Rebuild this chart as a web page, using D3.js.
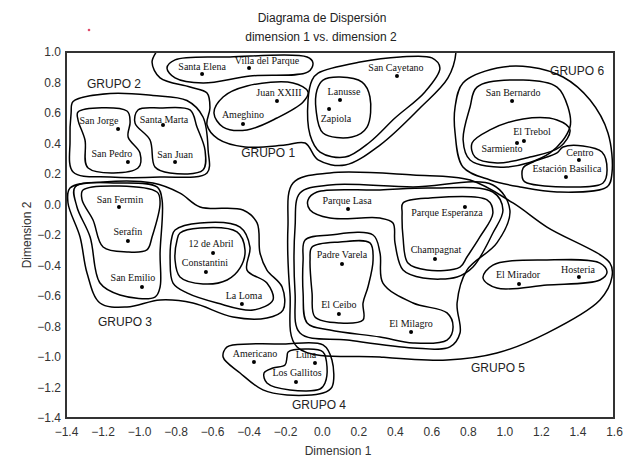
<!DOCTYPE html>
<html>
<head>
<meta charset="utf-8">
<script src="https://cdn.jsdelivr.net/npm/d3@7"></script>
<style>
  body { margin: 0; background: #fff; }
  svg { display: block; }
  .tick-label { font-family: "Liberation Sans", Arial, sans-serif; font-size: 12px; fill: #333; }
  .barrio { font-family: "Liberation Serif", "Times New Roman", serif; font-size: 10px; fill: #111; }
  .grupo { font-family: "Liberation Sans", Arial, sans-serif; font-size: 12px; fill: #222; }
</style>
</head>
<body>
<svg id="chart" width="623" height="457"></svg>
<script>
// barrios: [nombre, dimension 1, dimension 2]
const barrios = [
  ["Santa Elena", -0.655, 0.856], ["Villa del Parque", -0.398, 0.895],
  ["Juan XXIII", -0.245, 0.679], ["Ameghino", -0.431, 0.528],
  ["San Jorge", -1.115, 0.495], ["Santa Marta", -0.869, 0.521],
  ["San Pedro", -1.061, 0.279], ["San Juan", -0.803, 0.279],
  ["Lanusse", 0.100, 0.685], ["Zapiola", 0.040, 0.626],
  ["San Cayetano", 0.412, 0.843], ["San Bernardo", 1.042, 0.679],
  ["Sarmiento", 1.069, 0.403], ["El Trebol", 1.107, 0.416],
  ["Centro", 1.408, 0.292], ["Estación Basilica", 1.337, 0.180],
  ["Parque Lasa", 0.144, -0.030], ["Parque Esperanza", 0.784, -0.016],
  ["Champagnat", 0.620, -0.357], ["Padre Varela", 0.111, -0.390],
  ["El Ceibo", 0.094, -0.718], ["El Milagro", 0.489, -0.836],
  ["El Mirador", 1.080, -0.521], ["Hosteria", 1.408, -0.475],
  ["Americano", -0.371, -1.033], ["Luna", -0.037, -1.039],
  ["Los Gallitos", -0.141, -1.164], ["San Fermin", -1.110, -0.016],
  ["Serafin", -1.061, -0.239], ["San Emilio", -0.984, -0.541],
  ["12 de Abril", -0.595, -0.318], ["Constantini", -0.634, -0.443],
  ["La Loma", -0.437, -0.652]
];

const grupos = [
  ["GRUPO 1", -0.293, 0.311], ["GRUPO 2", -1.137, 0.764],
  ["GRUPO 3", -1.077, -0.797], ["GRUPO 4", -0.015, -1.341],
  ["GRUPO 5", 0.965, -1.098], ["GRUPO 6", 1.398, 0.849]
];

const xTicks = [-1.4, -1.2, -1.0, -0.8, -0.6, -0.4, -0.2, 0.0, 0.2, 0.4, 0.6, 0.8, 1.0, 1.2, 1.4, 1.6];
const yTicks = [1.0, 0.8, 0.6, 0.4, 0.2, 0.0, -0.2, -0.4, -0.6, -0.8, -1.0, -1.2, -1.4];

// contornos de los grupos (puntos de control en unidades de las dimensiones)
const contornos = [
  // grupo 1
  [[-0.847,0.895],[-0.803,0.948],[-0.502,0.967],[-0.080,0.967],[-0.048,0.928],[-0.075,0.869],[-0.392,0.843],[-0.650,0.797],[-0.803,0.830]],
  [[-0.590,0.600],[-0.540,0.705],[-0.409,0.777],[-0.157,0.797],[-0.075,0.738],[-0.102,0.672],[-0.245,0.567],[-0.409,0.489],[-0.540,0.508]],
  [[0.007,0.816],[0.100,0.836],[0.221,0.803],[0.264,0.705],[0.248,0.508],[0.166,0.443],[0.007,0.469],[-0.031,0.620],[-0.026,0.751]],
  [[-0.020,0.862],[0.210,0.934],[0.429,0.967],[0.603,0.961],[0.647,0.895],[0.565,0.738],[0.401,0.567],[0.264,0.410],[0.128,0.311],[-0.009,0.344],[-0.064,0.456],[-0.075,0.685],[-0.053,0.816]],
  [[-0.896,1.020],[-0.929,0.934],[-0.885,0.830],[-0.721,0.770],[-0.628,0.731],[-0.612,0.633],[-0.628,0.521],[-0.568,0.430],[-0.420,0.377],[-0.201,0.390],[-0.091,0.403],[-0.020,0.292],[0.128,0.259],[0.319,0.390],[0.538,0.633],[0.691,0.830],[0.735,1.000],[0.730,1.046],[-0.119,1.046],[-0.885,1.046]],
  // grupo 2
  [[-1.334,0.607],[-1.066,0.613],[-1.049,0.541],[-1.060,0.443],[-0.995,0.338],[-1.006,0.239],[-1.279,0.239],[-1.296,0.423],[-1.334,0.554]],
  [[-1.006,0.620],[-0.885,0.633],[-0.721,0.620],[-0.683,0.508],[-0.639,0.357],[-0.650,0.226],[-0.831,0.207],[-0.913,0.246],[-0.940,0.423],[-1.022,0.534]],
  [[-1.361,0.675],[-1.159,0.728],[-0.924,0.715],[-0.738,0.682],[-0.650,0.574],[-0.622,0.357],[-0.628,0.207],[-0.885,0.180],[-1.159,0.180],[-1.361,0.213],[-1.378,0.423],[-1.372,0.600]],
  // grupo 3
  [[-1.307,0.095],[-0.902,0.082],[-0.885,0.010],[-0.929,-0.213],[-0.957,-0.298],[-1.066,-0.311],[-1.197,-0.279],[-1.252,-0.102],[-1.312,0.030]],
  [[-1.350,0.115],[-1.121,0.141],[-0.902,0.115],[-0.874,0.030],[-0.885,-0.318],[-0.885,-0.541],[-0.913,-0.607],[-1.105,-0.593],[-1.214,-0.515],[-1.268,-0.213],[-1.340,-0.016]],
  [[-0.776,-0.187],[-0.666,-0.154],[-0.464,-0.180],[-0.420,-0.298],[-0.447,-0.416],[-0.518,-0.495],[-0.650,-0.521],[-0.776,-0.475],[-0.803,-0.364],[-0.792,-0.233]],
  [[-0.803,-0.167],[-0.666,-0.121],[-0.447,-0.148],[-0.393,-0.279],[-0.409,-0.430],[-0.300,-0.515],[-0.267,-0.626],[-0.376,-0.692],[-0.573,-0.646],[-0.738,-0.580],[-0.814,-0.515],[-0.830,-0.364],[-0.820,-0.213]],
  [[-1.378,0.108],[-1.197,0.148],[-0.924,0.141],[-0.776,0.075],[-0.666,-0.016],[-0.431,-0.036],[-0.354,-0.121],[-0.338,-0.318],[-0.300,-0.430],[-0.217,-0.541],[-0.212,-0.692],[-0.300,-0.744],[-0.486,-0.738],[-0.705,-0.646],[-0.885,-0.626],[-1.066,-0.672],[-1.214,-0.646],[-1.285,-0.449],[-1.323,-0.213],[-1.389,0.010]],
  // grupo 4
  [[-0.184,-0.967],[-0.080,-0.948],[0.007,-0.967],[0.029,-1.066],[0.018,-1.170],[-0.009,-1.210],[-0.174,-1.216],[-0.300,-1.170],[-0.316,-1.105],[-0.267,-1.072],[-0.201,-1.052],[-0.190,-1.000]],
  [[-0.518,-0.934],[-0.393,-0.915],[-0.212,-0.915],[0.007,-0.921],[0.056,-1.020],[0.056,-1.197],[0.007,-1.236],[-0.190,-1.249],[-0.322,-1.216],[-0.447,-1.105],[-0.540,-1.000]],
  // grupo 5
  [[0.445,0.010],[0.593,0.043],[0.905,0.030],[0.937,-0.056],[0.866,-0.213],[0.795,-0.344],[0.757,-0.410],[0.576,-0.430],[0.472,-0.384],[0.445,-0.213],[0.440,-0.056]],
  [[-0.075,0.030],[-0.026,0.082],[0.319,0.095],[0.593,0.108],[0.937,0.082],[0.992,-0.036],[0.937,-0.187],[0.828,-0.410],[0.741,-0.475],[0.555,-0.482],[0.445,-0.430],[0.401,-0.252],[0.390,-0.121],[0.319,-0.089],[0.045,-0.089],[-0.064,-0.036]],
  [[-0.053,-0.279],[0.100,-0.246],[0.264,-0.252],[0.281,-0.364],[0.253,-0.541],[0.226,-0.646],[0.226,-0.757],[0.100,-0.777],[-0.037,-0.738],[-0.053,-0.580],[-0.064,-0.364]],
  [[-0.091,-0.233],[0.045,-0.200],[0.281,-0.200],[0.319,-0.318],[0.335,-0.515],[0.500,-0.646],[0.686,-0.711],[0.719,-0.803],[0.686,-0.889],[0.500,-0.908],[0.319,-0.869],[0.045,-0.823],[-0.080,-0.777],[-0.102,-0.580],[-0.102,-0.364]],
  [[-0.119,0.075],[0.045,0.128],[0.500,0.115],[0.937,0.128],[1.030,-0.036],[0.959,-0.252],[0.795,-0.430],[0.741,-0.646],[0.757,-0.843],[0.702,-0.934],[0.500,-0.941],[0.139,-0.889],[-0.119,-0.843],[-0.146,-0.580],[-0.146,-0.148]],
  [[-0.157,0.141],[0.045,0.207],[0.500,0.193],[0.812,0.161],[1.047,0.010],[1.233,-0.148],[1.578,-0.384],[1.589,-0.475],[1.523,-0.626],[1.233,-0.843],[0.959,-0.974],[0.686,-1.020],[0.319,-1.000],[-0.135,-0.934],[-0.174,-0.580],[-0.185,-0.148]],
  [[0.883,-0.482],[0.937,-0.397],[1.233,-0.364],[1.523,-0.384],[1.562,-0.443],[1.523,-0.495],[1.233,-0.528],[0.959,-0.548]],
  // grupo 6
  [[0.823,0.403],[0.921,0.489],[1.102,0.561],[1.288,0.554],[1.359,0.489],[1.304,0.377],[1.140,0.311],[0.960,0.272],[0.839,0.311]],
  [[0.850,0.770],[1.102,0.816],[1.288,0.770],[1.348,0.639],[1.359,0.508],[1.250,0.338],[1.014,0.246],[0.812,0.292],[0.774,0.423],[0.812,0.639]],
  [[1.102,0.161],[1.102,0.239],[1.157,0.279],[1.288,0.338],[1.321,0.377],[1.430,0.384],[1.534,0.344],[1.562,0.226],[1.540,0.141],[1.343,0.115],[1.124,0.141]],
  [[0.773,0.797],[0.960,0.895],[1.140,0.902],[1.321,0.836],[1.469,0.685],[1.567,0.469],[1.589,0.207],[1.562,0.115],[1.288,0.082],[1.085,0.115],[0.921,0.161],[0.773,0.246],[0.730,0.469],[0.730,0.639]]
];

// desplazamiento de cada etiqueta respecto de su punto
const offsets = {
  "Santa Elena": [0, -4], "Villa del Parque": [18, -4], "Juan XXIII": [2, -5], "Ameghino": [0, -6],
  "San Jorge": [-19, -5], "Santa Marta": [1, -2], "San Pedro": [-16, -5], "San Juan": [0, -4],
  "Lanusse": [4, -5], "Zapiola": [7, 13], "San Cayetano": [-1, -5], "San Bernardo": [1, -5],
  "El Trebol": [8, -6], "Sarmiento": [-15, 9], "Centro": [1, -4], "Estación Basilica": [1, -5],
  "Parque Lasa": [-1, -5], "Parque Esperanza": [-18, 9], "Champagnat": [1, -6], "Padre Varela": [0, -6],
  "El Ceibo": [0, -6], "El Milagro": [0, -5], "El Mirador": [-1, -6], "Hosteria": [-1, -4],
  "Americano": [1, -5], "Luna": [-9, -5], "Los Gallitos": [1, -6], "San Fermin": [1, -4],
  "Serafin": [0, -6], "San Emilio": [-9, -6], "12 de Abril": [-2, -6], "Constantini": [-1, -6],
  "La Loma": [2, -5]
};

const margin = { top: 52, right: 9, bottom: 39, left: 66 };
const svg = d3.select("#chart");
const W = +svg.attr("width"), H = +svg.attr("height");
const w = W - margin.left - margin.right, h = H - margin.top - margin.bottom;

const x = d3.scaleLinear().domain([-1.4, 1.6]).range([0, w]);
const y = d3.scaleLinear().domain([-1.4, 1.0]).range([h, 0]);

// punto rojo suelto del original
svg.append("circle").attr("cx", 89).attr("cy", 30).attr("r", 1.3).attr("fill", "#e04a6a");

svg.append("text").attr("class", "grupo").attr("x", 322).attr("y", 22)
  .attr("text-anchor", "middle").text("Diagrama de Dispersión");
svg.append("text").attr("class", "grupo").attr("x", 321).attr("y", 41)
  .attr("text-anchor", "middle").text("dimension 1 vs. dimension 2");

const g = svg.append("g").attr("transform", `translate(${margin.left},${margin.top})`);

g.append("clipPath").attr("id", "clip")
  .append("rect").attr("width", w).attr("height", h);

const xAxis = g.append("g").attr("transform", `translate(0,${h})`)
  .call(d3.axisBottom(x).tickValues(xTicks).tickFormat(d3.format(".1f")).tickSize(0).tickPadding(9));
const yAxis = g.append("g")
  .call(d3.axisLeft(y).tickValues(yTicks).tickFormat(d3.format(".1f")).tickSize(0).tickPadding(5));
[xAxis, yAxis].forEach(a => {
  a.select(".domain").remove();
  a.selectAll("text").attr("class", "tick-label").attr("font-family", null).attr("font-size", null);
});

svg.append("text").attr("class", "tick-label").attr("x", 338).attr("y", 455)
  .attr("text-anchor", "middle").text("Dimension 1");
svg.append("text").attr("class", "tick-label")
  .attr("transform", "translate(31,235) rotate(-90)")
  .attr("text-anchor", "middle").text("Dimension 2");

const line = d3.line()
  .x(d => x(d[0])).y(d => y(d[1]))
  .curve(d3.curveCatmullRomClosed.alpha(0.5));

g.append("g").attr("clip-path", "url(#clip)")
  .selectAll("path").data(contornos).join("path")
  .attr("d", line)
  .attr("fill", "none").attr("stroke", "#000").attr("stroke-width", 1.5);

g.append("rect").attr("width", w).attr("height", h)
  .attr("fill", "none").attr("stroke", "#333").attr("stroke-width", 2);

g.selectAll(".punto").data(barrios).join("circle")
  .attr("class", "punto")
  .attr("cx", d => x(d[1])).attr("cy", d => y(d[2])).attr("r", 2)
  .attr("fill", "#000");

g.selectAll(".barrio").data(barrios).join("text")
  .attr("class", "barrio")
  .attr("x", d => x(d[1]) + offsets[d[0]][0])
  .attr("y", d => y(d[2]) + offsets[d[0]][1])
  .attr("text-anchor", "middle")
  .text(d => d[0]);

g.selectAll(".grupo-label").data(grupos).join("text")
  .attr("class", "grupo")
  .attr("x", d => x(d[1])).attr("y", d => y(d[2]))
  .attr("text-anchor", "middle")
  .text(d => d[0]);
</script>
</body>
</html>
